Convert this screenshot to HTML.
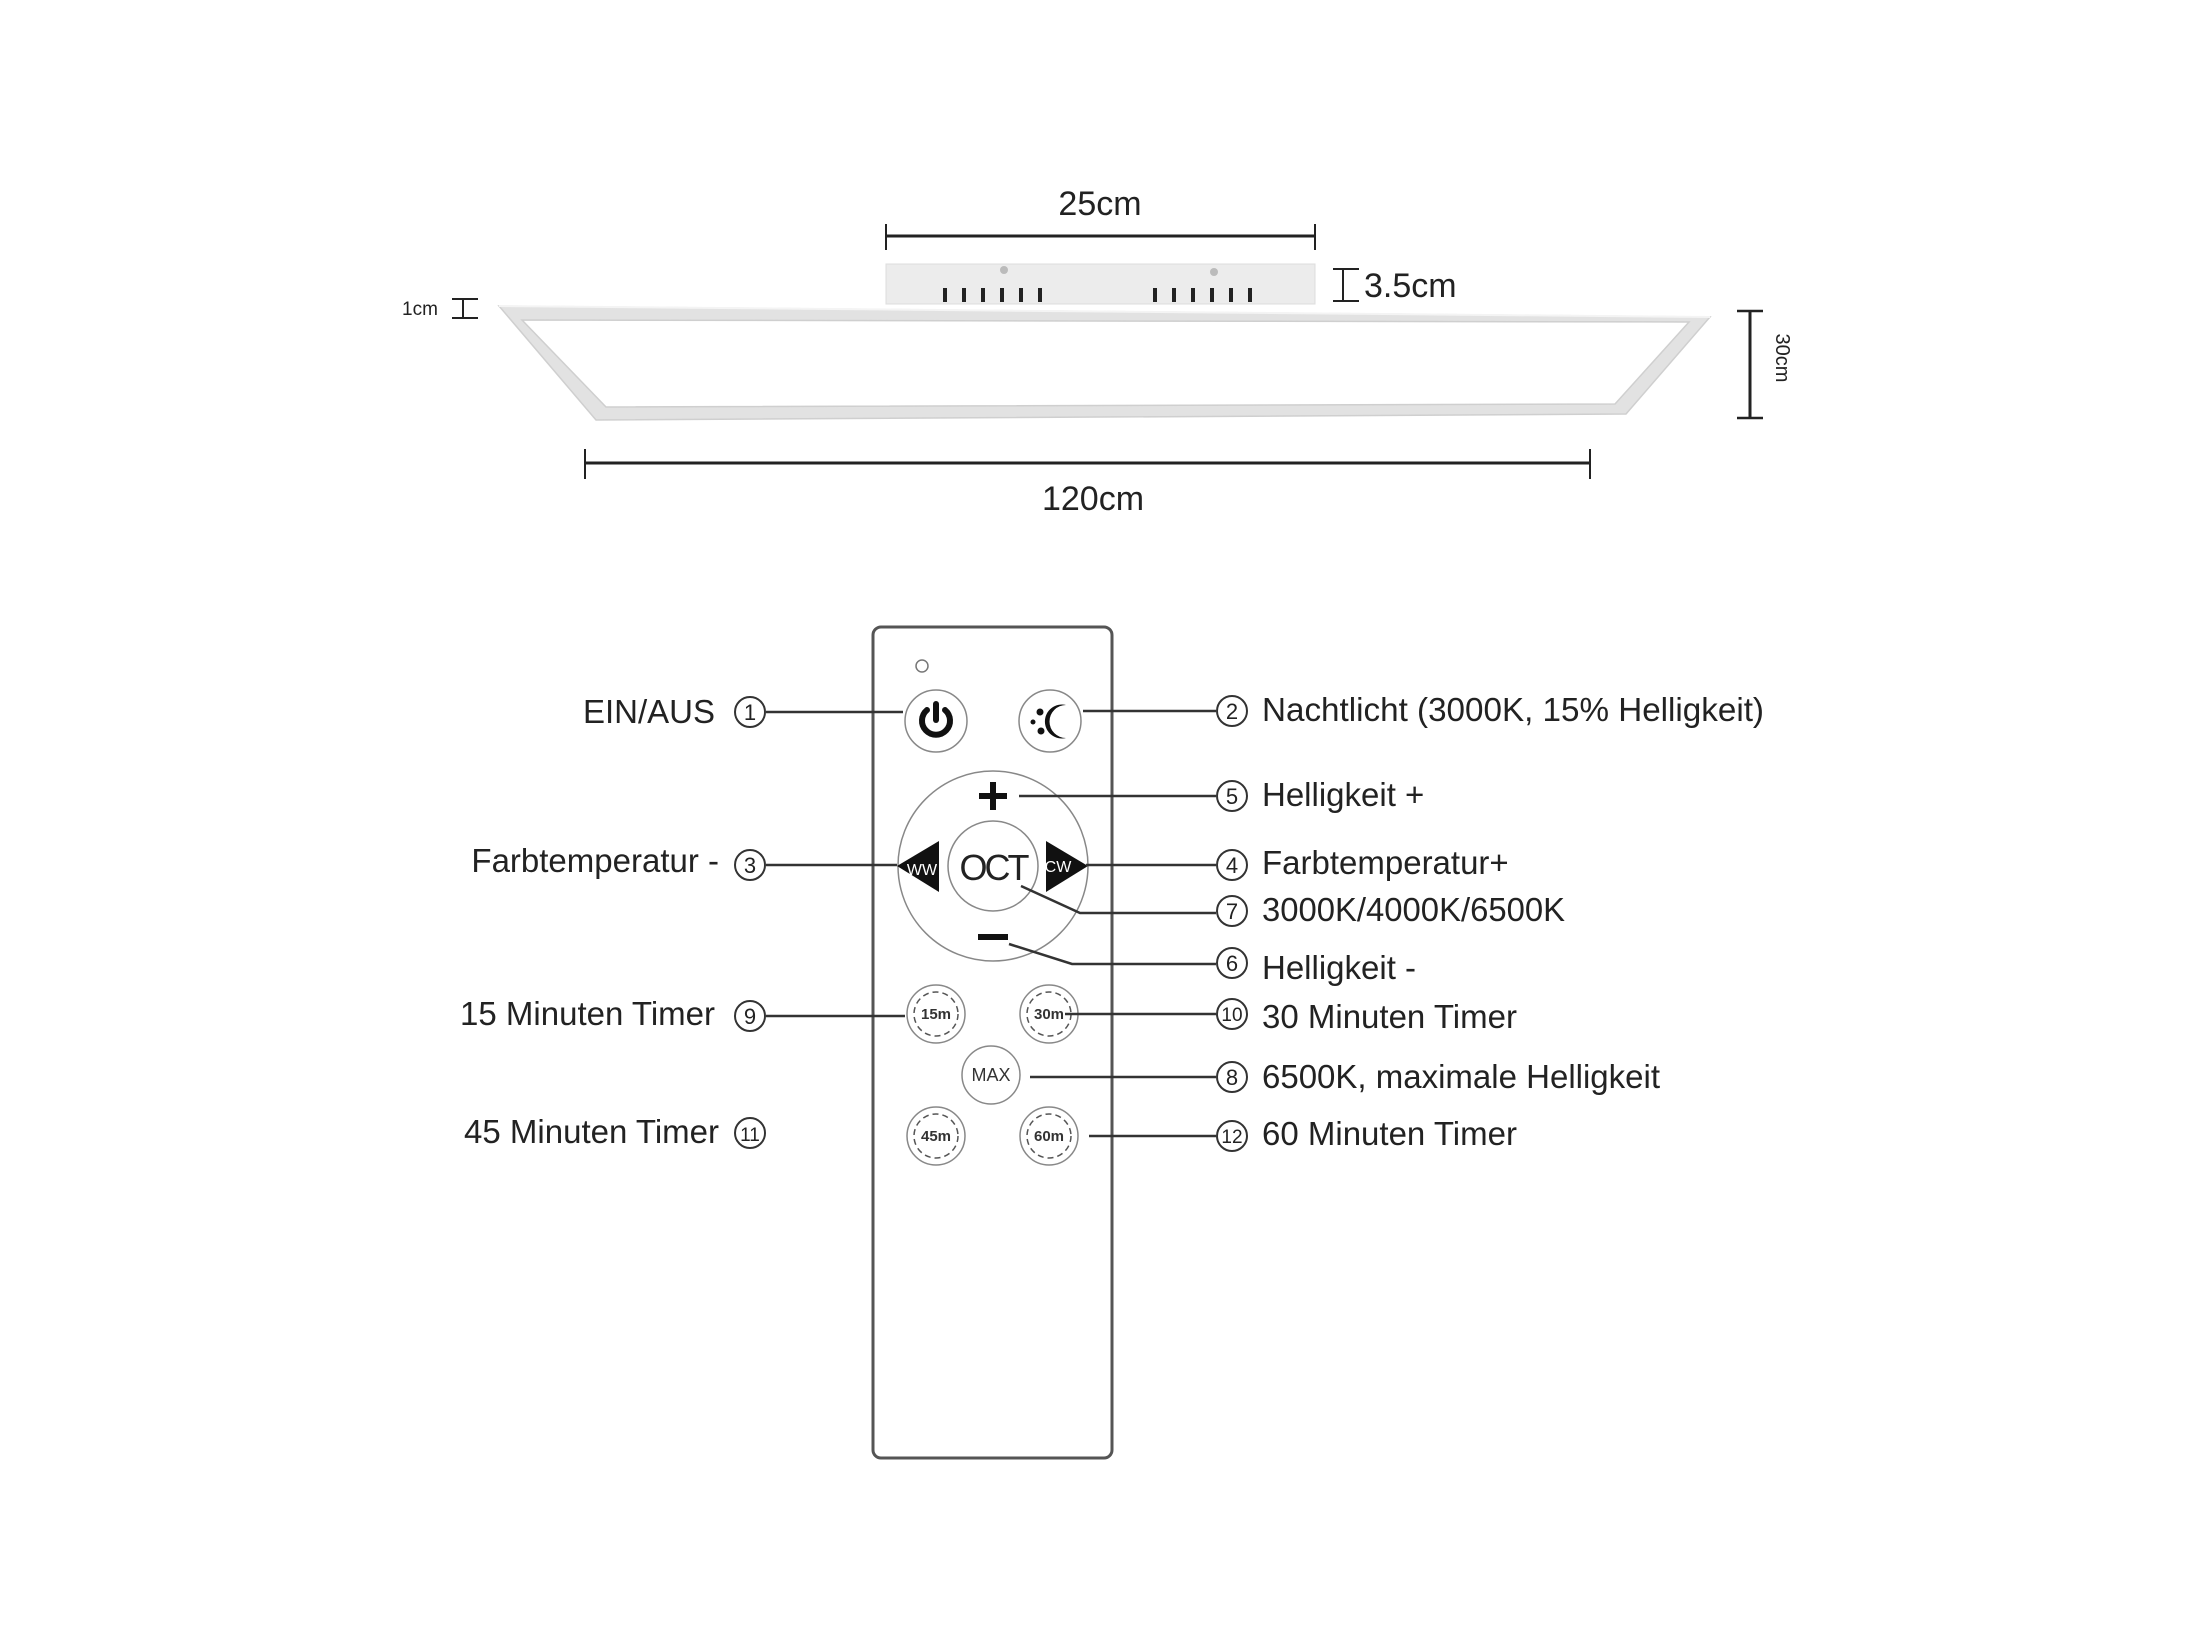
<!DOCTYPE html>
<html><head><meta charset="utf-8"><style>html,body{margin:0;padding:0;background:#fff}svg{display:block}</style></head>
<body>
<svg width="2198" height="1648" viewBox="0 0 2198 1648" xmlns="http://www.w3.org/2000/svg" font-family="Liberation Sans, sans-serif">
<text x="1100" y="215" font-size="34" text-anchor="middle" fill="#222">25cm</text>
<line x1="886" y1="236" x2="1315" y2="236" stroke="#222" stroke-width="3"/>
<line x1="886" y1="224" x2="886" y2="250" stroke="#222" stroke-width="2"/>
<line x1="1315" y1="224" x2="1315" y2="250" stroke="#222" stroke-width="2"/>
<rect x="886" y="264" width="429" height="40" fill="#ececec" stroke="#ddd"/>
<g fill="#222">
<rect x="943" y="288" width="4" height="14"/><rect x="962" y="288" width="4" height="14"/><rect x="981" y="288" width="4" height="14"/><rect x="1000" y="288" width="4" height="14"/><rect x="1019" y="288" width="4" height="14"/><rect x="1038" y="288" width="4" height="14"/>
<rect x="1153" y="288" width="4" height="14"/><rect x="1172" y="288" width="4" height="14"/><rect x="1191" y="288" width="4" height="14"/><rect x="1210" y="288" width="4" height="14"/><rect x="1229" y="288" width="4" height="14"/><rect x="1248" y="288" width="4" height="14"/>
</g>
<circle cx="1004" cy="270" r="4" fill="#bbb"/><circle cx="1214" cy="272" r="4" fill="#bbb"/>
<line x1="1343" y1="269" x2="1343" y2="301" stroke="#222" stroke-width="2"/>
<line x1="1333" y1="269" x2="1359" y2="269" stroke="#222" stroke-width="2"/>
<line x1="1333" y1="301" x2="1359" y2="301" stroke="#222" stroke-width="2"/>
<text x="1364" y="297" font-size="34" fill="#222">3.5cm</text>
<path d="M499,306 L1710,317 L1626,414 L596,420 Z M522,320 L1689,322 L1615,404 L606,407 Z" fill="#e2e2e2" fill-rule="evenodd" stroke="#cfcfcf" stroke-width="1.5"/>
<line x1="499" y1="306" x2="1710" y2="317" stroke="#f4f4f4" stroke-width="2"/>
<text x="402" y="315" font-size="19" fill="#222">1cm</text>
<line x1="463" y1="299" x2="463" y2="318" stroke="#222" stroke-width="2"/>
<line x1="452" y1="299" x2="478" y2="299" stroke="#222" stroke-width="2"/>
<line x1="452" y1="318" x2="478" y2="318" stroke="#222" stroke-width="2"/>
<line x1="1750" y1="311" x2="1750" y2="418" stroke="#222" stroke-width="3"/>
<line x1="1737" y1="311" x2="1763" y2="311" stroke="#222" stroke-width="2.5"/>
<line x1="1737" y1="418" x2="1763" y2="418" stroke="#222" stroke-width="2.5"/>
<text x="1776" y="358" font-size="20" fill="#222" text-anchor="middle" transform="rotate(90 1776 358)">30cm</text>
<line x1="585" y1="463" x2="1590" y2="463" stroke="#222" stroke-width="3"/>
<line x1="585" y1="449" x2="585" y2="479" stroke="#222" stroke-width="2"/>
<line x1="1590" y1="449" x2="1590" y2="479" stroke="#222" stroke-width="2"/>
<text x="1093" y="510" font-size="34" text-anchor="middle" fill="#222">120cm</text>

<rect x="873" y="627" width="239" height="831" rx="8" fill="#fff" stroke="#555" stroke-width="3"/>
<circle cx="922" cy="666" r="6" fill="none" stroke="#777" stroke-width="1.5"/>
<g fill="#fff" stroke="#888" stroke-width="1.5">
<circle cx="936" cy="721" r="31"/><circle cx="1050" cy="721" r="31"/>
<circle cx="993" cy="866" r="95"/><circle cx="993" cy="866" r="45"/>
<circle cx="936" cy="1014" r="29"/><circle cx="1049" cy="1014" r="29"/>
<circle cx="991" cy="1075" r="29"/>
<circle cx="936" cy="1136" r="29"/><circle cx="1049" cy="1136" r="29"/>
</g>
<path d="M927,710 A14,14 0 1 0 945,710" fill="none" stroke="#111" stroke-width="6" stroke-linecap="round"/>
<line x1="936" y1="704" x2="936" y2="720" stroke="#111" stroke-width="6" stroke-linecap="round"/>
<path d="M1066,705 A17,17 0 1 0 1066,738 A14,14 0 1 1 1066,705 Z" fill="#111"/>
<circle cx="1040" cy="712" r="3.5" fill="#111"/><circle cx="1033" cy="722" r="2.5" fill="#111"/><circle cx="1041" cy="731" r="3.5" fill="#111"/>
<rect x="979" y="793" width="28" height="6" fill="#111"/><rect x="990" y="782" width="6" height="28" fill="#111"/>
<rect x="978" y="934" width="30" height="6" fill="#111"/>
<path d="M897,866 L939,841 L939,892 Z" fill="#111"/>
<path d="M1088,866 L1046,841 L1046,892 Z" fill="#111"/>
<text x="922" y="875" font-size="16" fill="#fff" text-anchor="middle">WW</text>
<text x="1058" y="872" font-size="16" fill="#fff" text-anchor="middle">CW</text>
<text x="993" y="880" font-size="36" text-anchor="middle" fill="#222" letter-spacing="-3">OCT</text>
<g font-size="15" font-weight="bold" fill="#333" text-anchor="middle">
<text x="936" y="1019">15m</text><text x="1049" y="1019">30m</text>
<text x="936" y="1141">45m</text><text x="1049" y="1141">60m</text>
</g>
<text x="991" y="1081" font-size="18" fill="#333" text-anchor="middle">MAX</text>
<g fill="none" stroke="#555" stroke-width="1.5" stroke-dasharray="6 4">
<circle cx="936" cy="1014" r="22"/><circle cx="1049" cy="1014" r="22"/><circle cx="936" cy="1136" r="22"/><circle cx="1049" cy="1136" r="22"/>
</g>

<g stroke="#333" stroke-width="2.5" fill="none">
<line x1="766" y1="712" x2="903" y2="712"/>
<line x1="766" y1="865" x2="897" y2="865"/>
<line x1="766" y1="1016" x2="905" y2="1016"/>
<line x1="1083" y1="711" x2="1216" y2="711"/>
<line x1="1019" y1="796" x2="1216" y2="796"/>
<line x1="1086" y1="865" x2="1216" y2="865"/>
<polyline points="1021,886 1080,913 1216,913"/>
<polyline points="1009,944 1072,964 1216,964"/>
<line x1="1065" y1="1014" x2="1216" y2="1014"/>
<line x1="1030" y1="1077" x2="1216" y2="1077"/>
<line x1="1089" y1="1136" x2="1216" y2="1136"/>
</g>
<g fill="#fff" stroke="#333" stroke-width="2">
<circle cx="750" cy="712" r="15"/><circle cx="750" cy="865" r="15"/><circle cx="750" cy="1016" r="15"/><circle cx="750" cy="1133" r="15"/>
<circle cx="1232" cy="711" r="15"/><circle cx="1232" cy="796" r="15"/><circle cx="1232" cy="865" r="15"/><circle cx="1232" cy="911" r="15"/><circle cx="1232" cy="963" r="15"/><circle cx="1232" cy="1014" r="15"/><circle cx="1232" cy="1077" r="15"/><circle cx="1232" cy="1136" r="15"/>
</g>
<g font-size="22" fill="#222" text-anchor="middle">
<text x="750" y="720">1</text><text x="750" y="873">3</text><text x="750" y="1024">9</text><text x="750" y="1141" font-size="19">11</text>
<text x="1232" y="719">2</text><text x="1232" y="804">5</text><text x="1232" y="873">4</text><text x="1232" y="919">7</text><text x="1232" y="971">6</text><text x="1232" y="1021" font-size="19">10</text><text x="1232" y="1085">8</text><text x="1232" y="1143" font-size="19">12</text>
</g>
<g font-size="33" fill="#222">
<text x="715" y="723" text-anchor="end">EIN/AUS</text>
<text x="719" y="872" text-anchor="end">Farbtemperatur -</text>
<text x="715" y="1025" text-anchor="end">15 Minuten Timer</text>
<text x="719" y="1143" text-anchor="end">45 Minuten Timer</text>
<text x="1262" y="721" textLength="502" lengthAdjust="spacingAndGlyphs">Nachtlicht (3000K, 15% Helligkeit)</text>
<text x="1262" y="806">Helligkeit +</text>
<text x="1262" y="874">Farbtemperatur+</text>
<text x="1262" y="921" textLength="303" lengthAdjust="spacingAndGlyphs">3000K/4000K/6500K</text>
<text x="1262" y="979">Helligkeit -</text>
<text x="1262" y="1028">30 Minuten Timer</text>
<text x="1262" y="1088">6500K, maximale Helligkeit</text>
<text x="1262" y="1145">60 Minuten Timer</text>
</g>
</svg>
</body></html>
